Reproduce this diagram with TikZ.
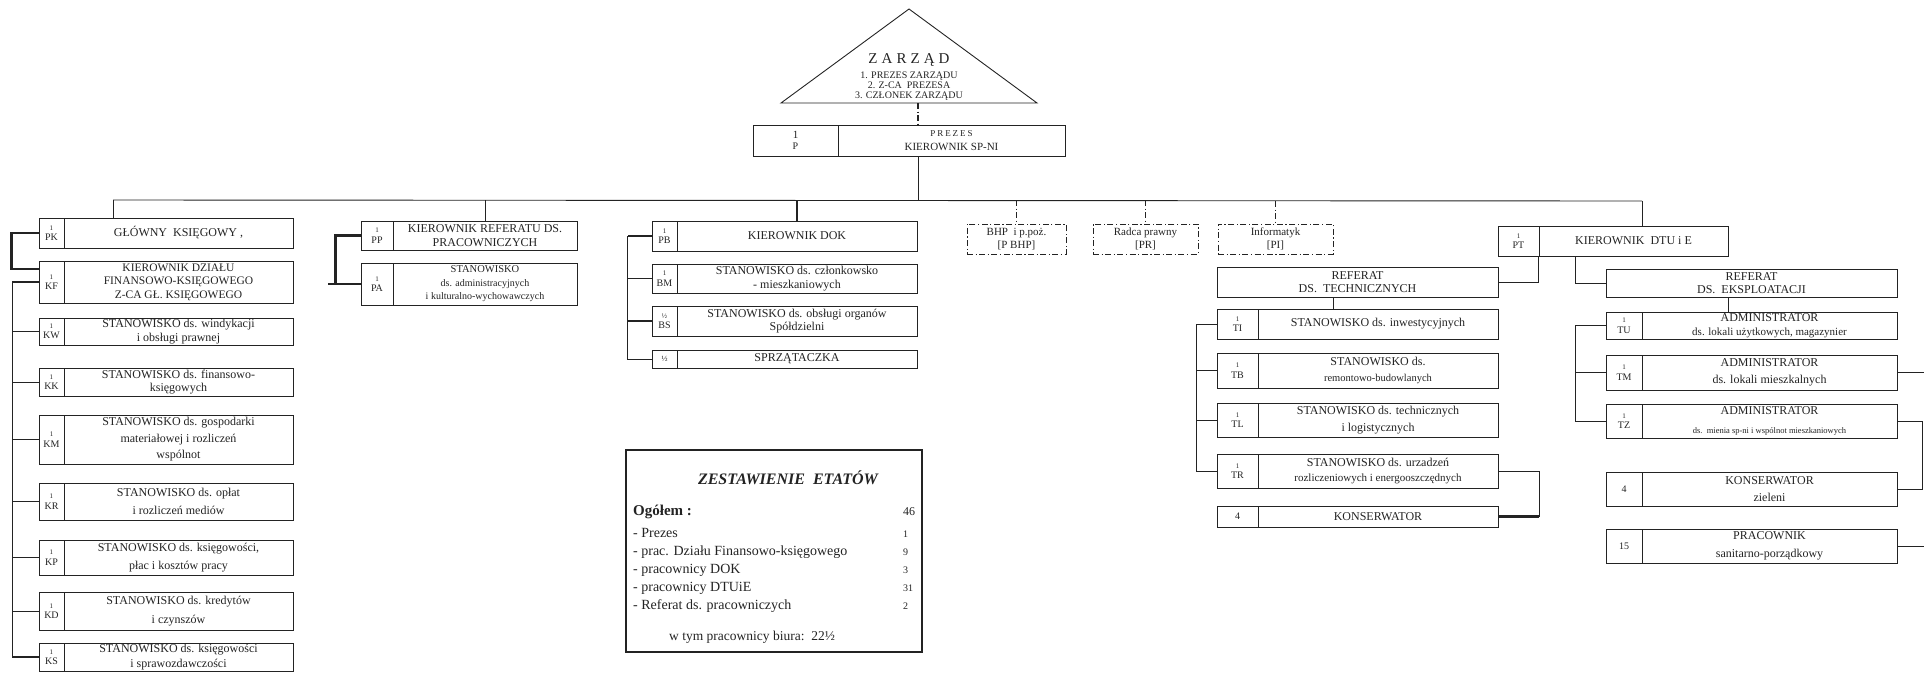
\documentclass[tikz,border=0pt]{standalone}
\usepackage{fontspec}
\setmainfont{Liberation Serif}
\definecolor{ink}{RGB}{35, 35, 35}
\usetikzlibrary{calc}
\tikzset{
  box/.style={draw=ink, line width=0.9pt, inner sep=0pt, align=center},
  codecell/.style={box, font=\fontsize{10}{10.5}\selectfont},
  desccell/.style={box, font=\fontsize{12}{13.5}\selectfont},
  dashbox/.style={box, font=\fontsize{11}{12.5}\selectfont, dash pattern=on 6pt off 2.5pt on 1.2pt off 2.5pt},
  link/.style={draw=ink, line width=0.9pt},
  heavy/.style={draw=ink, line width=2.2pt},
  dd/.style={draw=ink, line width=0.9pt, dash pattern=on 6pt off 2.5pt on 1.2pt off 2.5pt},
}
\newcommand{\one}[1]{{\fontsize{7}{8}\selectfont #1}}
\newcommand{\etat}[8]{%
  \node[codecell, minimum width={#3-#2}, minimum height={#6-#5}] (#1) at ({(#2+#3)/2},{(#5+#6)/2}) {#7};
  \node[desccell, minimum width={#4-#3}, minimum height={#6-#5}] (#1t) at ({(#3+#4)/2},{(#5+#6)/2}) {#8};}

\begin{document}
\begin{tikzpicture}[x=1pt, y=-1pt, color=ink]
  \useasboundingbox (0,0) rectangle (1924,672);

  \coordinate (tapex) at (909,9);
  \coordinate (tbl) at (781,103);
  \coordinate (tbr) at (1037,103);
  \draw[link] (tapex) -- (tbl) -- (tbr) -- cycle;
  \node[font=\fontsize{15}{16}\selectfont] (zname) at (909,60) {{\addfontfeatures{LetterSpace=27}ZARZĄD}};
  \node[align=center, font=\fontsize{10}{9.8}\selectfont] (zmembers) at (909,86) {1. PREZES ZARZĄDU\\2. Z-CA\ \ PREZESA\\3. CZŁONEK ZARZĄDU};

  \etat{prez}{753}{838}{1065}{125}{156}{\fontsize{11}{14}\selectfont 1\\P}{{\fontsize{9}{10}\selectfont\addfontfeatures{LetterSpace=22}PREZES}\\{\fontsize{11}{12}\selectfont KIEROWNIK SP-NI}}

  \coordinate (busL) at (113,200);
  \coordinate (hub) at (918,200);
  \coordinate (busR) at (1642,201);
  \draw[link] (busL) -- (busR);
  \draw[dd, line width=1.4pt] (tbl -| hub) -- (prezt.north -| hub);
  \draw[link] (prezt.south -| hub) -- (hub);

  \etat{pk}{39}{64}{293}{218}{248}{\one{1}\\PK}{GŁÓWNY\ \ KSIĘGOWY\ ,}
  \etat{kf}{39}{64}{293}{261}{303}{\one{1}\\KF}{{\fontsize{11.5}{13}\selectfont KIEROWNIK DZIAŁU}\\{\fontsize{11.5}{13}\selectfont FINANSOWO-KSIĘGOWEGO}\\{\fontsize{11.5}{13}\selectfont Z-CA GŁ. KSIĘGOWEGO}}
  \etat{kw}{39}{64}{293}{318}{345}{\one{1}\\KW}{STANOWISKO ds. windykacji\\i obsługi prawnej}
  \etat{kk}{39}{64}{293}{368}{396}{\one{1}\\KK}{STANOWISKO ds. finansowo-\\księgowych}
  \etat{km}{39}{64}{293}{415}{464}{\one{1}\\KM}{STANOWISKO ds. gospodarki\\[3pt]materiałowej i rozliczeń\\[3pt]wspólnot}
  \etat{kr}{39}{64}{293}{483}{520}{\one{1}\\KR}{STANOWISKO ds. opłat\\[4pt]i rozliczeń mediów}
  \etat{kp}{39}{64}{293}{540}{575}{\one{1}\\KP}{STANOWISKO ds. księgowości,\\[4pt]płac i kosztów pracy}
  \etat{kd}{39}{64}{293}{592}{630}{\one{1}\\KD}{STANOWISKO ds. kredytów\\[5pt]i czynszów}
  \etat{ks}{39}{64}{293}{643}{671}{\one{1}\\KS}{STANOWISKO ds. księgowości\\[1pt]i sprawozdawczości}

  \draw[link] (busL) -- (busL |- pkt.north);
  \draw[heavy] (pk.west) -- ++(-27,0) |- ([yshift=13pt]kf.west);
  \draw[heavy] (kf.west) -- ++(-27,0);
  \draw[link] (kf.west) ++(-26,0) |- (ks.west);
  \draw[heavy] (ks.west) -- ++(-27,0);
  \foreach \n in {kw,kk,km,kr,kp,kd}
    \draw[link] (\n.west) -- ++(-26,0);

  \etat{pp}{361}{393}{577}{221}{250}{\one{1}\\PP}{KIEROWNIK REFERATU DS.\\PRACOWNICZYCH}
  \etat{pa}{361}{393}{577}{263}{305}{\one{1}\\PA}{{\fontsize{10.5}{12}\selectfont STANOWISKO}\\{\fontsize{10}{12}\selectfont ds. administracyjnych}\\{\fontsize{10}{12}\selectfont i kulturalno-wychowawczych}}
  \draw[link] (ppt.north |- busL) -- (ppt.north);
  \draw[heavy] (pp.west) -- ++(-25,0) |- (pa.west);
  \draw[heavy] (pa.west) -- ++(-33,0);

  \etat{pb}{652}{677}{917}{221}{251}{\one{1}\\PB}{KIEROWNIK DOK}
  \etat{bm}{652}{677}{917}{264}{293}{\one{1}\\BM}{STANOWISKO ds. członkowsko\\- mieszkaniowych}
  \etat{bs}{652}{677}{917}{306}{336}{\one{½}\\BS}{STANOWISKO ds. obsługi organów\\Spółdzielni}
  \etat{sp}{652}{677}{917}{350}{368}{{\fontsize{8}{9}\selectfont ½}}{SPRZĄTACZKA}
  \draw[heavy, line width=1.6pt] (pbt.north |- busL) -- (pbt.north);
  \draw[heavy] (pb.west) -- ++(-24,0);
  \draw[link] (pb.west) ++(-24,0) |- (sp.west);
  \draw[link] (bm.west) -- ++(-24,0);
  \draw[heavy] (bs.west) -- ++(-24,0);

  \node[dashbox, minimum width=99, minimum height=30] (bhp) at (1016.5,239) {BHP\ \ i p.poż.\\{[P BHP]}};
  \node[dashbox, minimum width=105, minimum height=30] (prw) at (1145.5,239) {Radca prawny\\{[PR]}};
  \node[dashbox, minimum width=115, minimum height=30] (inf) at (1275.5,239) {Informatyk\\{[PI]}};
  \draw[dd] (bhp.north |- busL) -- (bhp.north);
  \draw[dd] (prw.north |- busL) -- (prw.north);
  \draw[dd, line width=1.8pt] (inf.north |- busR) -- (inf.north);

  \etat{pt}{1498}{1539}{1728}{226}{256}{\one{1}\\PT}{KIEROWNIK\ \ DTU i E}
  \draw[link] (busR) -- (busR |- ptt.north);

  \node[desccell, minimum width=281, minimum height=30] (reft) at (1357.5,282) {REFERAT\\DS.\ \ TECHNICZNYCH};
  \node[desccell, minimum width=291, minimum height=28] (refe) at (1751.5,283) {REFERAT\\DS.\ \ EKSPLOATACJI};
  \draw[link] (ptt.south west) |- (reft.east);
  \draw[link] ([xshift=37pt]ptt.south west) |- (refe.west);

  \etat{ti}{1217}{1258}{1498}{309}{339}{\one{1}\\TI}{STANOWISKO ds. inwestycyjnych}
  \etat{tb}{1217}{1258}{1498}{353}{388}{\one{1}\\TB}{STANOWISKO ds.\\[3pt]{\fontsize{10.5}{12}\selectfont remontowo-budowlanych}}
  \etat{tl}{1217}{1258}{1498}{403}{437}{\one{1}\\TL}{STANOWISKO ds. technicznych\\[3pt]i logistycznych}
  \etat{tr}{1217}{1258}{1498}{454}{488}{\one{1}\\TR}{STANOWISKO ds. urzadzeń\\[2pt]{\fontsize{11}{12}\selectfont rozliczeniowych i energooszczędnych}}
  \etat{kt}{1217}{1258}{1498}{506}{527}{4}{KONSERWATOR}
  \draw[link] (reft.south -| inf.east) -- (tit.north -| inf.east);
  \draw[link] (ti.west) -- ++(-20,0) |- (tr.west);
  \foreach \n in {tb,tl}
    \draw[link] (\n.west) -- ++(-20,0);
  \draw[link] (trt.east) -- ++(41,0) |- (ktt.east);
  \draw[heavy] (ktt.east) -- ++(41,0);

  \etat{tu}{1606}{1642}{1897}{312}{339}{\one{1}\\TU}{ADMINISTRATOR\\{\fontsize{11}{12}\selectfont ds. lokali użytkowych, magazynier}}
  \etat{tm}{1606}{1642}{1897}{355}{390}{\one{1}\\TM}{ADMINISTRATOR\\[4pt]ds. lokali mieszkalnych}
  \etat{tz}{1606}{1642}{1897}{404}{438}{\one{1}\\TZ}{ADMINISTRATOR\\[5pt]{\fontsize{8.5}{10}\selectfont ds.\ \ mienia sp-ni i wspólnot mieszkaniowych}}
  \etat{kz}{1606}{1642}{1897}{472}{506}{4}{KONSERWATOR\\[4pt]zieleni}
  \etat{ps}{1606}{1642}{1897}{529}{563}{15}{PRACOWNIK\\[4pt]sanitarno-porządkowy}
  \draw[link] (refe.south -| ptt.east) -- (tut.north -| ptt.east);
  \draw[link] (tu.west) -- ++(-30,0) |- (tz.west);
  \draw[link] (tm.west) -- ++(-30,0);
  \draw[link] (tmt.east) -- ++(27,0);
  \draw[link] (tzt.east) -- ++(25,0) |- (kzt.east);
  \draw[link] (pst.east) -- ++(27,0);

  \node[draw=ink, line width=1.2pt, minimum width=296, minimum height=202, inner sep=0pt] (zest) at (774,551) {};
  \node[font=\bfseries\itshape\fontsize{16}{17}\selectfont] (ztitle) at (788,478) {ZESTAWIENIE\ \ ETATÓW};
  \node[anchor=north west, inner sep=0pt, font=\fontsize{14}{18}\selectfont] (zlist) at (633,503) {%
    \begin{tabular}{@{}p{270pt}@{}l@{}}
      \textbf{\fontsize{15}{18}\selectfont Ogółem :} & {\fontsize{12}{12}\selectfont 46}\\[4pt]
      - Prezes & {\fontsize{10}{10}\selectfont 1}\\
      - prac. Działu Finansowo-księgowego & {\fontsize{10}{10}\selectfont 9}\\
      - pracownicy DOK & {\fontsize{10}{10}\selectfont 3}\\
      - pracownicy DTUiE & {\fontsize{10}{10}\selectfont 31}\\
      - Referat ds. pracowniczych & {\fontsize{10}{10}\selectfont 2}
    \end{tabular}};
  \node[font=\fontsize{13.5}{15}\selectfont] (zbiuro) at (752,637) {w tym pracownicy biura:\ \ 22½};
\end{tikzpicture}
\end{document}
